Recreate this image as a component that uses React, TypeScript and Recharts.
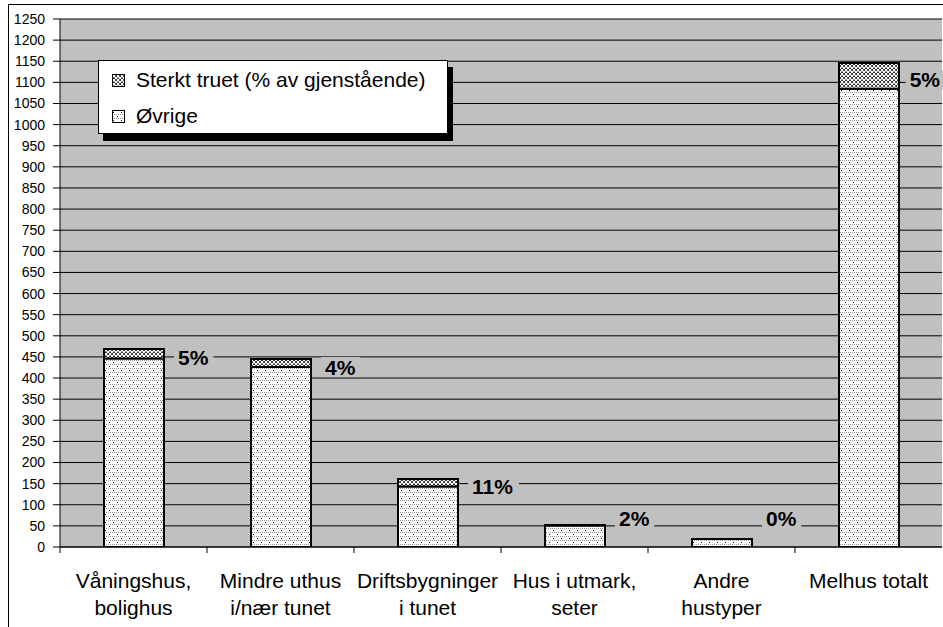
import React from "react";
import { BarChart, Bar, XAxis, YAxis, CartesianGrid, Legend, LabelList } from "recharts";

const categories = [
  "Våningshus,\nbolighus",
  "Mindre uthus\ni/nær tunet",
  "Driftsbygninger\ni tunet",
  "Hus i utmark,\nseter",
  "Andre\nhustyper",
  "Melhus totalt",
];
const ovrige = [446, 426, 143, 51, 19, 1085];
const sterktTruet = [23, 19, 18, 1, 0, 61];
const pctLabels = ["5%", "4%", "11%", "2%", "0%", "5%"];
const yTicks = [0, 50, 100, 150, 200, 250, 300, 350, 400, 450, 500, 550, 600, 650, 700, 750, 800, 850, 900, 950, 1000, 1050, 1100, 1150, 1200, 1250];

const SERIES_STERKT = "Sterkt truet (% av gjenstående)";
const SERIES_OVRIGE = "Øvrige";

const data = categories.map((c, i) => ({
  name: c,
  ovrige: ovrige[i],
  sterkt: sterktTruet[i],
  pct: sterktTruet[i] > 0 ? pctLabels[i] : null,
  pctEmpty: sterktTruet[i] > 0 ? null : pctLabels[i],
}));

const FONT = '"Liberation Sans", Arial, sans-serif';
const W = 943;
const H = 627;
const M = { top: 19, right: 1, bottom: 0, left: 0 };
const YW = 60;
const XH = 80;
const PLOT_RIGHT = W - M.right;
const PLOT_BOTTOM = H - M.bottom - XH;
const BAND = (PLOT_RIGHT - YW - M.left) / categories.length;

const CategoryTick = (props: any) => {
  const { x, y, payload, index } = props;
  const lines = String(payload.value).split("\n");
  return (
    <g>
      {index < categories.length - 1 && (
        <line x1={x + BAND / 2} x2={x + BAND / 2} y1={y} y2={y + 6} stroke="#000" strokeWidth={1} />
      )}
      {index === 0 && (
        <line x1={x - BAND / 2} x2={x - BAND / 2} y1={y} y2={y + 6} stroke="#000" strokeWidth={1} />
      )}
      {lines.map((l, i) => (
        <text key={i} x={x} y={y + 41 + i * 27} textAnchor="middle" fontSize={21} fontFamily={FONT} fill="#000">
          {l}
        </text>
      ))}
    </g>
  );
};

const drawPct = (s: string, x: number, width: number, cyRaw: number) => {
  const fs = 21;
  let tw = 0;
  for (const ch of s) tw += ch === "%" ? 0.889 * fs : 0.556 * fs;
  const barRight = x + width;
  let lx = barRight + 14;
  if (lx + tw > PLOT_RIGHT - 2) lx = PLOT_RIGHT - 2 - tw;
  let cy = cyRaw;
  if (cy > PLOT_BOTTOM - 29) cy = PLOT_BOTTOM - 29;
  return (
    <g>
      <rect x={lx - 4} y={cy - 10} width={tw + 9} height={20} fill="#C0C0C0" />
      <text x={lx} y={cy} dominantBaseline="central" fontSize={fs} fontWeight="bold" fontFamily={FONT} fill="#000">
        {s}
      </text>
    </g>
  );
};

const PctLabel = (props: any) => {
  const { x, y, width, height, value } = props;
  if (value === null || value === undefined || value === "") return null;
  return drawPct(String(value), Number(x), Number(width), Number(y) + Number(height) / 2 + 4);
};

const PctLabelEmpty = (props: any) => {
  const { x, y, width, value } = props;
  if (value === null || value === undefined || value === "") return null;
  return drawPct(String(value), Number(x), Number(width), Number(y) + 4);
};

const LegendBox = (props: any) => {
  const payload = props.payload || [];
  const order = [SERIES_STERKT, SERIES_OVRIGE];
  const items = order
    .map((n) => payload.find((p: any) => p.value === n))
    .filter(Boolean);
  return (
    <div style={{ position: "relative", width: 350, height: 74 }}>
      <div style={{ position: "absolute", left: 5, top: 7, width: 350, height: 74, background: "#000" }} />
      <div
        style={{
          position: "absolute",
          left: 0,
          top: 0,
          width: 348,
          height: 72,
          background: "#fff",
          border: "1px solid #000",
          fontFamily: FONT,
          fontSize: 21,
          color: "#000",
        }}
      >
        {items.map((it: any, i: number) => (
          <div key={i} style={{ position: "absolute", left: 13, top: 7 + i * 36, height: 24, display: "flex", alignItems: "center", whiteSpace: "nowrap" }}>
            <svg width={13} height={13} style={{ marginRight: 11, display: "block" }}>
              <rect x={0.5} y={0.5} width={12} height={12} fill={it.color} stroke="#000" strokeWidth={1} />
            </svg>
            <span>{it.value}</span>
          </div>
        ))}
      </div>
    </div>
  );
};

export default function App() {
  return (
    <div style={{ position: "absolute", left: 0, top: 0, width: W, height: H, overflow: "hidden", background: "#fff" }}>
      <svg width={0} height={0} style={{ position: "absolute" }}>
        <defs>
          <pattern id="pOvrige" patternUnits="userSpaceOnUse" width={8} height={8}>
            <rect width={8} height={8} fill="#fff" />
            <rect x={0} y={0} width={1} height={1} fill="#9a9a9a" />
            <rect x={2} y={0} width={1} height={1} fill="#9a9a9a" />
            <rect x={4} y={0} width={1} height={1} fill="#9a9a9a" />
            <rect x={6} y={0} width={1} height={1} fill="#9a9a9a" />
            <rect x={0} y={4} width={1} height={1} fill="#9a9a9a" />
            <rect x={2} y={4} width={1} height={1} fill="#9a9a9a" />
            <rect x={4} y={4} width={1} height={1} fill="#9a9a9a" />
            <rect x={6} y={4} width={1} height={1} fill="#9a9a9a" />
            <rect x={1} y={2} width={1} height={1} fill="#000" />
            <rect x={5} y={6} width={1} height={1} fill="#000" />
          </pattern>
          <pattern id="pSterkt" patternUnits="userSpaceOnUse" width={4} height={4}>
            <rect width={4} height={4} fill="#fff" />
            <rect x={1} y={0} width={2} height={1} fill="#333" />
            <rect x={0} y={1} width={1} height={2} fill="#333" />
            <rect x={3} y={1} width={1} height={2} fill="#555" />
            <rect x={1} y={3} width={2} height={1} fill="#999" />
          </pattern>
        </defs>
      </svg>
      <div
        style={{
          position: "absolute",
          left: 8,
          top: 4,
          width: W + 10,
          height: H + 10,
          border: "1px solid #000",
          boxSizing: "border-box",
        }}
      />
      <div style={{ position: "absolute", left: 0, top: 0 }}>
        <BarChart width={W} height={H} data={data} margin={M} barSize={60}>
          <CartesianGrid horizontal vertical={false} stroke="#000" strokeWidth={1} fill="#C0C0C0" fillOpacity={1} />
          <XAxis
            dataKey="name"
            height={XH}
            interval={0}
            tickLine={false}
            tickSize={0}
            tickMargin={0}
            axisLine={{ stroke: "#000", strokeWidth: 1 }}
            tick={<CategoryTick />}
          />
          <YAxis
            width={YW}
            domain={[0, 1250]}
            ticks={yTicks}
            interval={0}
            tickSize={7}
            tickMargin={8}
            axisLine={{ stroke: "#000", strokeWidth: 1 }}
            tickLine={{ stroke: "#000", strokeWidth: 1 }}
            tick={{ fill: "#000", fontSize: 14, fontFamily: FONT }}
            allowDataOverflow
          />
          <Legend
            layout="vertical"
            align="center"
            verticalAlign="middle"
            content={<LegendBox />}
            wrapperStyle={{ left: 98, top: 60, width: 360, height: 84 }}
          />
          <Bar dataKey="ovrige" name={SERIES_OVRIGE} stackId="a" fill="url(#pOvrige)" stroke="#000" strokeWidth={2} isAnimationActive={false}>
            <LabelList dataKey="pctEmpty" content={<PctLabelEmpty />} />
          </Bar>
          <Bar dataKey="sterkt" name={SERIES_STERKT} stackId="a" fill="url(#pSterkt)" stroke="#000" strokeWidth={2} isAnimationActive={false}>
            <LabelList dataKey="pct" content={<PctLabel />} />
          </Bar>
        </BarChart>
      </div>
    </div>
  );
}
